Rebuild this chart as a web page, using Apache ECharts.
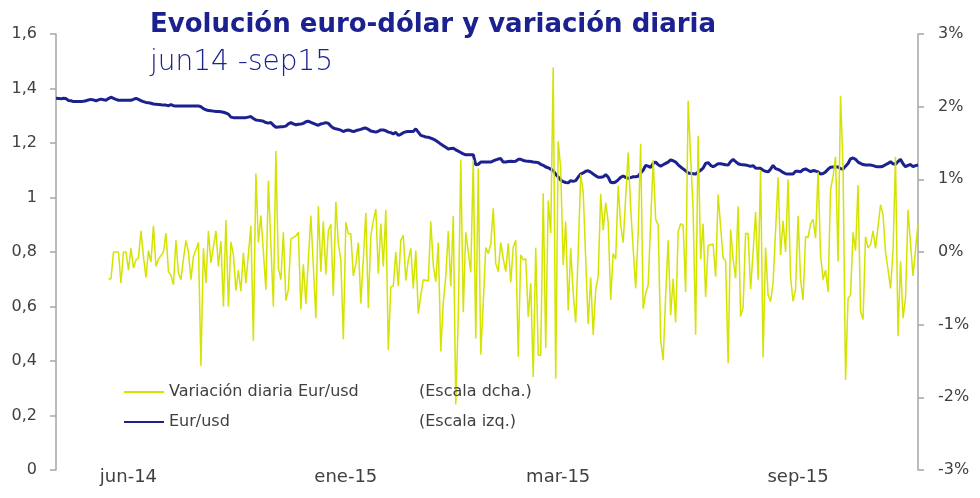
<!DOCTYPE html>
<html>
<head>
<meta charset="utf-8">
<script src="https://cdn.jsdelivr.net/npm/echarts@6/dist/echarts.min.js"></script>
<style>
html,body{margin:0;padding:0;background:#fff;}
#chart{width:980px;height:498px;}
</style>
</head>
<body>
<div id="chart"></div>
<script>
// Tick labels on the category axis and the day index where each one sits
const tickLabels = ['jun-14', 'ene-15', 'mar-15', 'sep-15'];
const tickIndex = [29, 116, 201, 297];

// Eur/usd (left scale)
const eurusd = [
1.364,1.363,1.362,1.364,1.363,1.356,1.355,1.352,1.352,1.352,
1.352,1.353,1.355,1.358,1.36,1.358,1.355,1.358,1.361,1.359,
1.357,1.363,1.368,1.364,1.36,1.357,1.357,1.357,1.357,1.357,
1.357,1.36,1.364,1.36,1.355,1.352,1.349,1.348,1.346,1.343,
1.342,1.341,1.34,1.339,1.339,1.337,1.341,1.337,1.336,1.336,
1.336,1.336,1.336,1.336,1.336,1.336,1.336,1.336,1.333,1.326,
1.322,1.319,1.318,1.317,1.316,1.316,1.315,1.313,1.31,1.306,
1.295,1.293,1.293,1.293,1.293,1.293,1.293,1.295,1.297,1.29,
1.284,1.283,1.282,1.28,1.275,1.273,1.275,1.265,1.258,1.259,
1.26,1.26,1.262,1.27,1.275,1.27,1.267,1.269,1.27,1.272,
1.278,1.28,1.276,1.272,1.268,1.265,1.27,1.272,1.275,1.272,
1.262,1.255,1.252,1.25,1.247,1.242,1.246,1.248,1.245,1.242,
1.245,1.248,1.25,1.254,1.255,1.25,1.244,1.242,1.24,1.243,
1.248,1.248,1.245,1.24,1.238,1.233,1.239,1.228,1.232,1.238,
1.241,1.242,1.242,1.242,1.252,1.24,1.228,1.225,1.222,1.221,
1.218,1.214,1.209,1.203,1.196,1.19,1.184,1.178,1.18,1.181,
1.175,1.17,1.165,1.16,1.157,1.157,1.157,1.157,1.12,1.122,
1.13,1.13,1.13,1.13,1.13,1.134,1.138,1.141,1.143,1.13,
1.13,1.132,1.133,1.132,1.133,1.14,1.14,1.136,1.134,1.133,
1.132,1.13,1.129,1.128,1.122,1.118,1.112,1.109,1.104,1.099,
1.085,1.075,1.064,1.058,1.055,1.054,1.062,1.059,1.062,1.075,
1.086,1.09,1.096,1.098,1.093,1.086,1.08,1.074,1.074,1.076,
1.084,1.075,1.056,1.054,1.057,1.065,1.074,1.079,1.074,1.07,
1.073,1.076,1.076,1.078,1.09,1.1,1.118,1.115,1.11,1.125,
1.13,1.12,1.115,1.12,1.125,1.13,1.138,1.135,1.13,1.12,
1.112,1.105,1.098,1.09,1.088,1.087,1.086,1.093,1.1,1.108,
1.125,1.128,1.118,1.113,1.118,1.124,1.124,1.122,1.12,1.119,
1.132,1.14,1.132,1.124,1.121,1.12,1.119,1.117,1.114,1.117,
1.108,1.107,1.107,1.1,1.096,1.094,1.104,1.118,1.106,1.103,
1.098,1.092,1.087,1.086,1.086,1.086,1.096,1.096,1.094,1.102,
1.105,1.1,1.095,1.099,1.097,1.094,1.086,1.088,1.094,1.104,
1.111,1.112,1.113,1.112,1.106,1.104,1.115,1.125,1.142,1.145,
1.14,1.13,1.125,1.121,1.119,1.119,1.119,1.117,1.114,1.113,
1.113,1.115,1.12,1.125,1.131,1.124,1.122,1.132,1.14,1.124,
1.113,1.118,1.121,1.113,1.117,1.119
];

// Variación diaria Eur/usd in % (right scale)
const variacion = [
null,null,null,null,null,null,null,null,null,null,
null,null,null,null,null,null,null,null,null,null,null,
-0.37,-0.37,0.0,0.0,0.0,-0.43,0.0,0.0,-0.25,0.05,
-0.22,-0.11,-0.08,0.29,-0.06,-0.35,0.02,-0.14,0.36,-0.2,
-0.1,-0.05,0.0,0.26,-0.27,-0.32,-0.45,0.16,-0.29,-0.38,
-0.1,0.16,0.0,-0.38,-0.06,0.03,0.13,-1.57,0.05,-0.43,
0.29,-0.15,0.07,0.29,-0.2,0.15,-0.75,0.44,-0.75,0.14,
-0.04,-0.53,-0.25,-0.54,-0.01,-0.43,-0.03,0.36,-1.22,1.08,
0.13,0.5,0.0,-0.52,0.98,0.1,-0.75,1.39,-0.22,-0.38,
0.27,-0.67,-0.52,0.18,0.2,0.22,0.27,-0.79,-0.17,-0.71,
-0.1,0.5,-0.2,-0.91,0.63,-0.27,0.42,-0.31,0.3,0.38,
-0.6,0.69,0.12,-0.11,-1.2,0.41,0.25,0.25,-0.33,-0.16,
0.13,-0.71,-0.1,0.54,-0.77,0.23,0.43,0.59,-0.3,0.39,
-0.2,0.58,-1.35,-0.48,-0.47,0.0,-0.47,0.16,0.23,-0.39,
-0.11,0.05,-0.5,0.02,-0.85,-0.6,-0.38,-0.39,-0.4,0.42,
-0.18,-0.41,0.13,-1.37,-0.7,-0.34,0.29,-0.47,0.5,-2.1,
-0.89,1.27,-0.83,0.27,0.0,-0.28,1.27,-1.19,1.15,-1.41,
-0.7,0.06,-0.02,0.11,0.6,-0.16,-0.27,0.13,-0.09,-0.27,
0.12,-0.42,0.07,0.16,-1.44,-0.04,-0.11,-0.09,-0.89,-0.43,
-1.72,0.06,-1.42,-1.42,0.81,-1.32,0.71,0.26,2.54,-1.74,
1.52,1.15,-0.18,0.42,-0.8,0.05,-0.57,-0.97,0.0,1.07,
0.83,-0.1,-0.99,-0.35,-1.14,-0.52,-0.34,0.8,0.3,0.68,
0.41,-0.66,-0.02,-0.1,0.91,0.37,0.13,0.75,1.37,0.6,
0.05,-0.5,0.26,1.49,-0.78,-0.57,-0.45,0.4,1.27,0.45,
0.37,-1.21,-1.49,-0.6,0.16,-0.87,-0.37,-0.97,0.28,0.39,
0.37,-0.55,2.08,1.3,0.58,-1.14,1.6,-0.1,0.39,-0.62,
0.09,0.1,0.11,-0.34,0.79,0.35,-0.08,-0.12,-1.53,0.31,
-0.1,-0.36,0.63,-0.89,-0.76,0.26,0.25,-0.51,0.0,0.55,
-0.38,1.13,-1.45,0.06,-0.59,-0.68,-0.42,0.3,1.03,-0.04,
0.43,0.0,1.0,-0.35,-0.68,-0.51,0.5,-0.38,-0.66,0.21,
0.2,0.39,0.45,0.19,1.1,-0.04,-0.38,-0.25,-0.55,0.86,
1.04,1.31,-0.13,2.15,1.17,-1.76,-0.64,-0.59,0.27,0.02,
0.92,-0.82,-0.93,0.21,0.06,0.1,0.29,0.05,0.35,0.65,
0.52,-0.01,-0.24,-0.5,0.01,1.31,-1.16,-0.13,-0.91,-0.64,
0.58,0.12,-0.33,0.03,0.39
];

const seriesNames = ['Variación diaria Eur/usd', 'Eur/usd'];
const scaleNotes = ['(Escala dcha.)', '(Escala izq.)'];

const categories = eurusd.map((_, i) => {
  const k = tickIndex.indexOf(i);
  return k >= 0 ? tickLabels[k] : String(i);
});

const FONT = 'DejaVu Sans';
const TXT = '#404040';
const AX = '#A6A6A6';
const NAVY = '#1C2190';
const YELLOW = '#D4E300';

const chart = echarts.init(document.getElementById('chart'), null, {renderer: 'canvas'});
chart.setOption({
  animation: false,
  backgroundColor: '#ffffff',
  title: [
    {text: 'Evolución euro-dólar y variación diaria', left: 145, top: 7,
     textStyle: {fontFamily: FONT, fontWeight: 'bold', fontSize: 26, color: NAVY}},
    {text: 'jun14 -sep15', left: 145, top: 44,
     textStyle: {fontFamily: FONT, fontWeight: 300, fontSize: 28, color: NAVY}}
  ],
  legend: {
    orient: 'vertical', left: 118, top: 379,
    itemWidth: 40, itemHeight: 14, itemGap: 14,
    data: seriesNames,
    itemStyle: {opacity: 0},
    formatter: name => `{n|${name}}{e|${scaleNotes[seriesNames.indexOf(name)]}}`,
    textStyle: {
      fontFamily: FONT, fontSize: 16, color: TXT,
      rich: {
        n: {fontFamily: FONT, fontSize: 16, color: TXT, width: 250},
        e: {fontFamily: FONT, fontSize: 16, color: TXT}
      }
    }
  },
  grid: {left: 56, right: 62, top: 34, bottom: 28},
  xAxis: {
    type: 'category', data: categories, boundaryGap: false,
    axisLine: {show: false}, axisTick: {show: false}, splitLine: {show: false},
    axisLabel: {
      interval: (i) => tickIndex.includes(i),
      formatter: (v, i) => { const k = tickIndex.indexOf(i); return k >= 0 ? tickLabels[k] : ''; },
      margin: -2, fontFamily: FONT, fontSize: 18, color: TXT
    }
  },
  yAxis: [
    {
      type: 'value', min: 0, max: 1.6, interval: 0.2, position: 'left',
      axisLine: {show: true, lineStyle: {color: AX, width: 1.5}},
      axisTick: {show: true, length: 6, lineStyle: {color: AX, width: 1.5}},
      splitLine: {show: false},
      axisLabel: {margin: 19, fontFamily: FONT, fontSize: 16, color: TXT,
        formatter: v => String(Math.round(v * 10) / 10).replace('.', ',')}
    },
    {
      type: 'value', min: -3, max: 3, interval: 1, position: 'right',
      axisLine: {show: true, lineStyle: {color: AX, width: 1.5}},
      axisTick: {show: true, length: 6, lineStyle: {color: AX, width: 1.5}},
      splitLine: {show: false},
      axisLabel: {margin: 20, fontFamily: FONT, fontSize: 16, color: TXT,
        formatter: v => Math.round(v) + '%'}
    }
  ],
  series: [
    {name: seriesNames[0], type: 'line', yAxisIndex: 1, data: variacion,
     symbol: 'none', showSymbol: false, connectNulls: false, z: 3,
     lineStyle: {color: YELLOW, width: 1.5}, itemStyle: {color: YELLOW}},
    {name: seriesNames[1], type: 'line', yAxisIndex: 0, data: eurusd,
     symbol: 'none', showSymbol: false, z: 2,
     lineStyle: {color: NAVY, width: 3}, itemStyle: {color: NAVY}}
  ]
});
</script>
</body>
</html>
